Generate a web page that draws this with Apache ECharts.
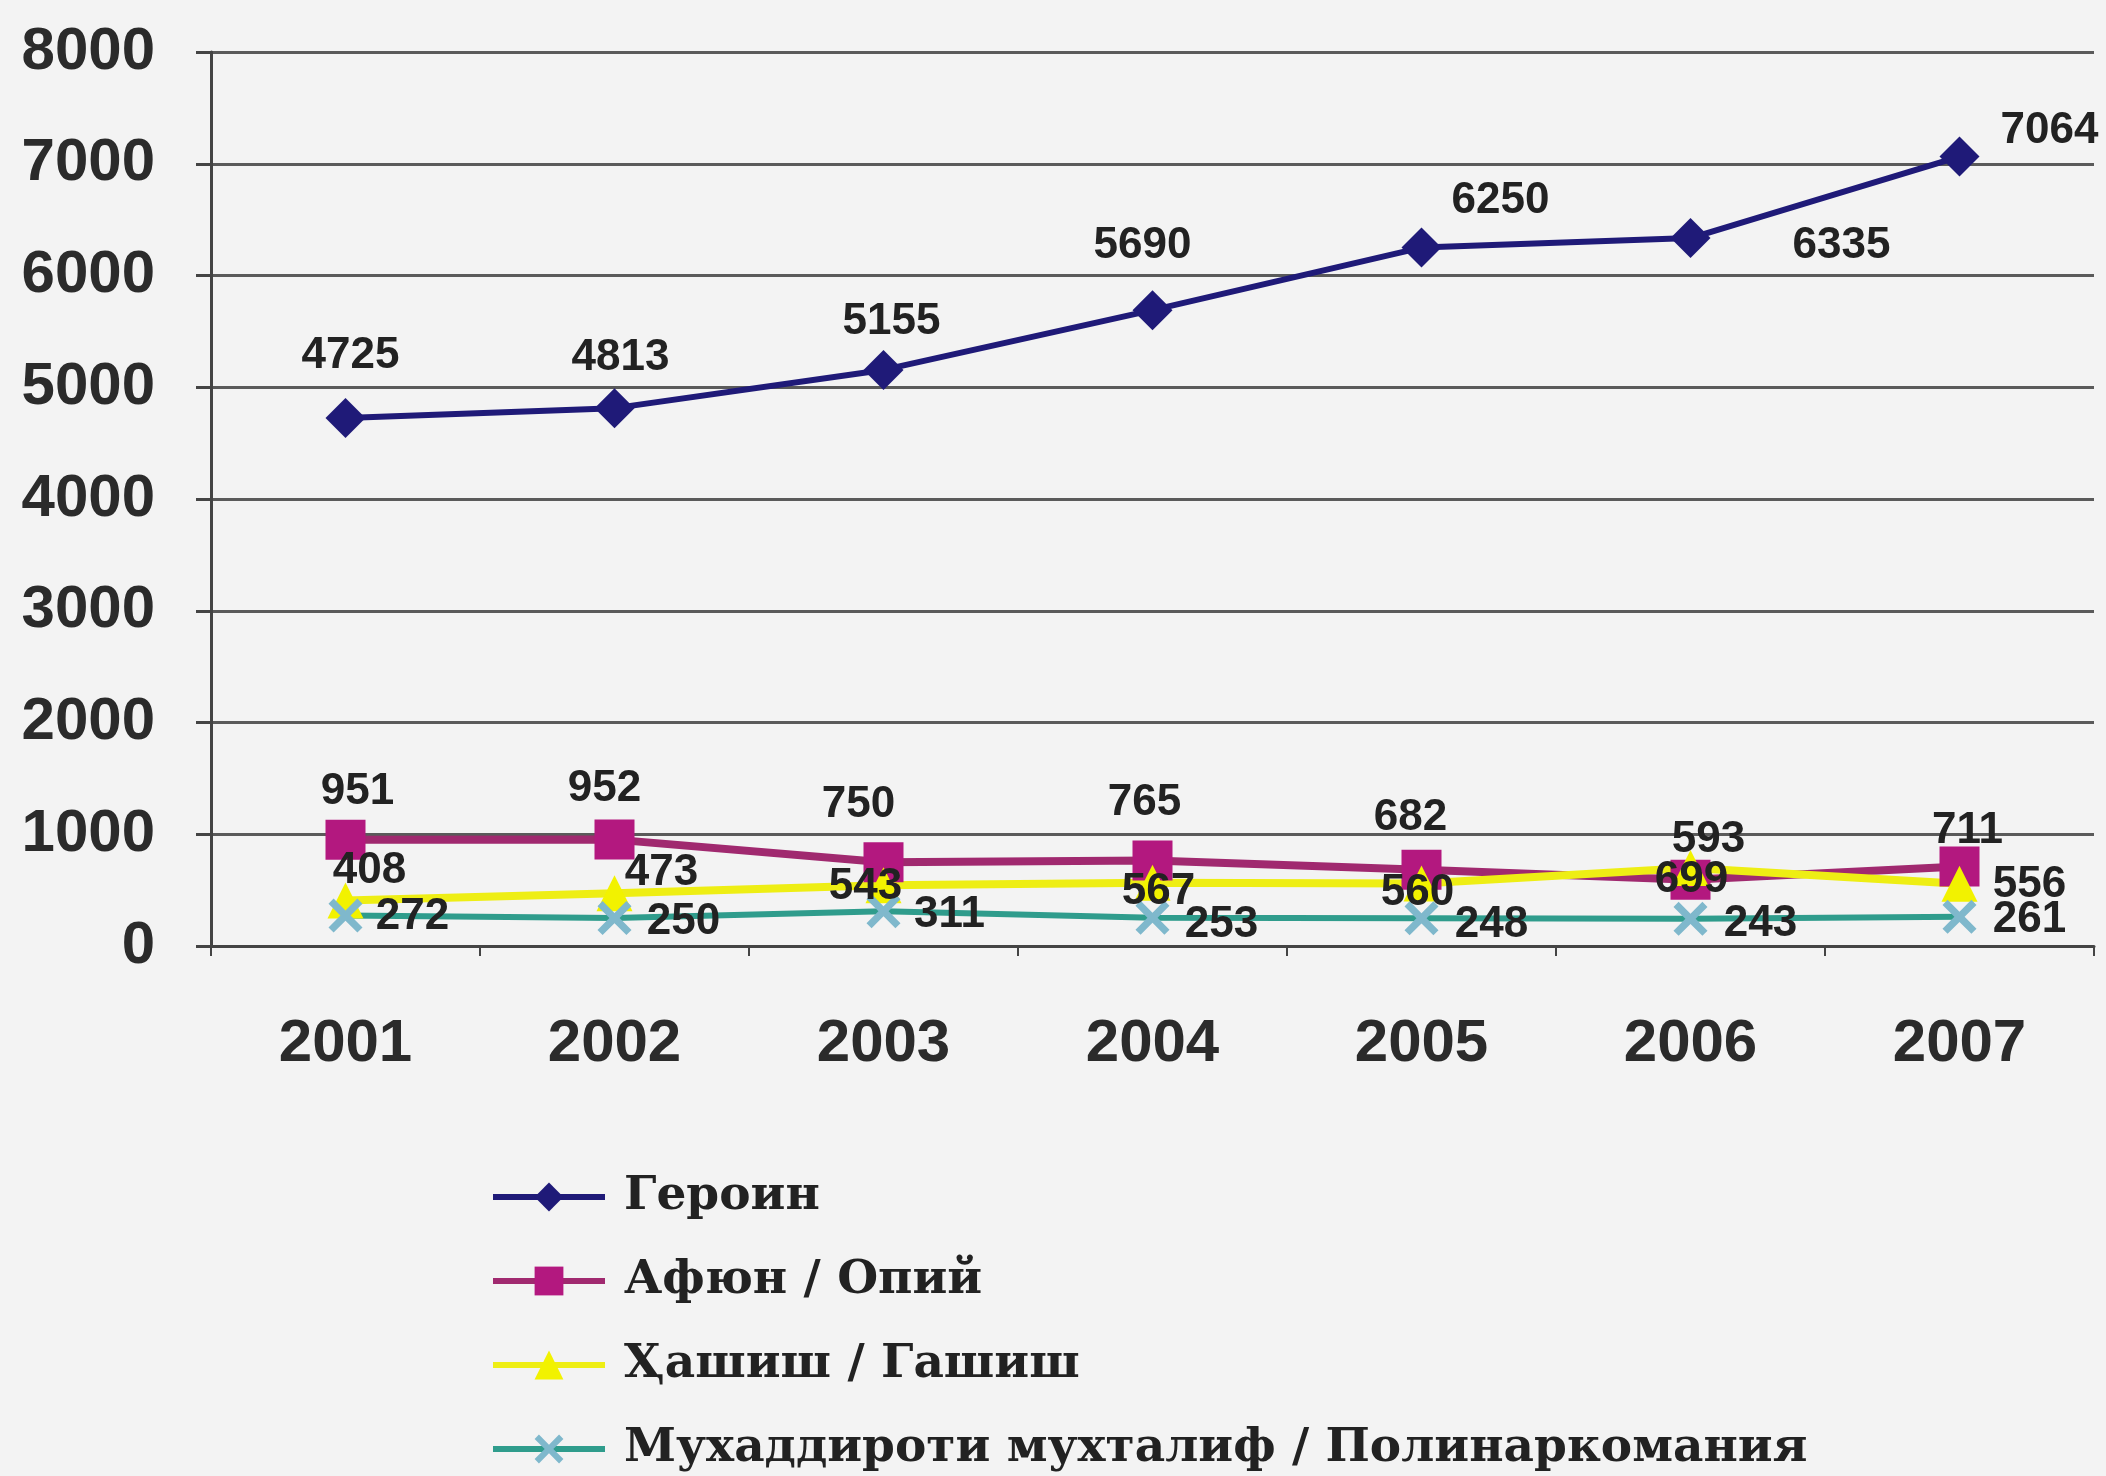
<!DOCTYPE html>
<html>
<head>
<meta charset="utf-8">
<title>chart</title>
<script src="https://cdn.jsdelivr.net/npm/echarts@6/dist/echarts.min.js"></script>
<style>
    html, body {margin: 0; padding: 0; background: #f3f3f3;}
    #main {width: 2106px; height: 1476px;}
</style>
</head>
<body>
<div id="main"></div>
<script>
// 数据
var years = ['2001', '2002', '2003', '2004', '2005', '2006', '2007'];
var seriesNames = ['Героин', 'Афюн / Опий', 'Ҳашиш / Гашиш', 'Мухаддироти мухталиф / Полинаркомания'];
var heroin = [4725, 4813, 5155, 5690, 6250, 6335, 7064];
var opium = [951, 952, 750, 765, 682, 593, 711];
var hashish = [408, 473, 543, 567, 560, 699, 556];
var poly = [272, 250, 311, 253, 248, 243, 261];
var yTicks = {min: 0, max: 8000, interval: 1000};

// 标签偏移 (样式, 不是数据)
var heroinLabelOffset = [[5, -62], [6, -50], [8, -48], [-10, -64], [79, -47], [151, 8], [90, -26]];
var opiumLabelOffset = [[12, -48], [-10, -51], [-25, -57], [-8, -58], [-11, -52], [18, -40], [8, -36]];
var hashishLabelOffset = [[24, -30], [47, -20], [-18, 2], [6, 9], [-4, 9], [1, 12], [70, 1]];
var polyLabelOffset = [[67, 1], [69, 4], [66, 4], [69, 7], [70, 7], [70, 5], [70, 3]];

var crossPath = 'path://M0,1.5L1.5,0L5,3.5L8.5,0L10,1.5L6.5,5L10,8.5L8.5,10L5,6.5L1.5,10L0,8.5L3.5,5Z';

function withOffsets(values, offsets) {
    return values.map(function (v, i) {
        return {value: v, label: {offset: offsets[i]}};
    });
}

var labelStyle = {
    show: true,
    position: 'inside',
    fontSize: 44,
    fontWeight: 'bold',
    fontFamily: 'Liberation Sans',
    color: '#222'
};

var myChart = echarts.init(document.getElementById('main'));
myChart.setOption({
    backgroundColor: '#f3f3f3',
    animation: false,
    grid: {
        left: 211,
        right: 12,
        top: 52,
        bottom: 530,
        containLabel: false,
        outerBoundsMode: 'none'
    },
    legend: {
        orient: 'vertical',
        left: 485,
        top: 1168,
        height: 420,
        itemWidth: 112,
        itemHeight: 36,
        itemGap: 36,
        lineStyle: {width: 6},
        textStyle: {
            fontSize: 47,
            lineHeight: 48,
            fontFamily: 'DejaVu Serif',
            fontWeight: 'bold',
            color: '#222',
            padding: [0, 0, 0, 14]
        },
        data: seriesNames
    },
    xAxis: {
        type: 'category',
        data: years,
        boundaryGap: true,
        axisLine: {lineStyle: {color: '#444', width: 3}},
        axisTick: {show: true, length: 10, lineStyle: {color: '#444', width: 2}},
        axisLabel: {
            fontSize: 60,
            fontWeight: 'bold',
            fontFamily: 'Liberation Sans',
            color: '#2b2b2b',
            margin: 68
        }
    },
    yAxis: {
        type: 'value',
        min: yTicks.min,
        max: yTicks.max,
        interval: yTicks.interval,
        axisLine: {show: true, lineStyle: {color: '#444', width: 3}},
        axisTick: {show: true, length: 15, lineStyle: {color: '#444', width: 3}},
        splitLine: {lineStyle: {color: '#5a5a5a', width: 3}},
        axisLabel: {
            fontSize: 60,
            fontWeight: 'bold',
            fontFamily: 'Liberation Sans',
            color: '#2b2b2b',
            margin: 56,
            formatter: function (v) { return String(v); }
        }
    },
    series: [
        {
            name: seriesNames[0],
            type: 'line',
            symbol: 'diamond',
            symbolSize: 40,
            lineStyle: {color: '#1f1a78', width: 6},
            itemStyle: {color: '#1f1a78'},
            label: labelStyle,
            data: withOffsets(heroin, heroinLabelOffset)
        },
        {
            name: seriesNames[1],
            type: 'line',
            symbol: 'rect',
            symbolSize: 40,
            lineStyle: {color: '#a0296f', width: 8},
            itemStyle: {color: '#b3187f'},
            label: labelStyle,
            data: withOffsets(opium, opiumLabelOffset)
        },
        {
            name: seriesNames[2],
            type: 'line',
            symbol: 'triangle',
            symbolSize: 36,
            lineStyle: {color: '#eeee14', width: 8},
            itemStyle: {color: '#f2f200'},
            label: labelStyle,
            data: withOffsets(hashish, hashishLabelOffset)
        },
        {
            name: seriesNames[3],
            type: 'line',
            symbol: crossPath,
            symbolSize: 34,
            lineStyle: {color: '#2f9c8c', width: 6},
            itemStyle: {color: '#7fb8cc'},
            label: labelStyle,
            data: withOffsets(poly, polyLabelOffset)
        }
    ]
});
</script>
</body>
</html>
